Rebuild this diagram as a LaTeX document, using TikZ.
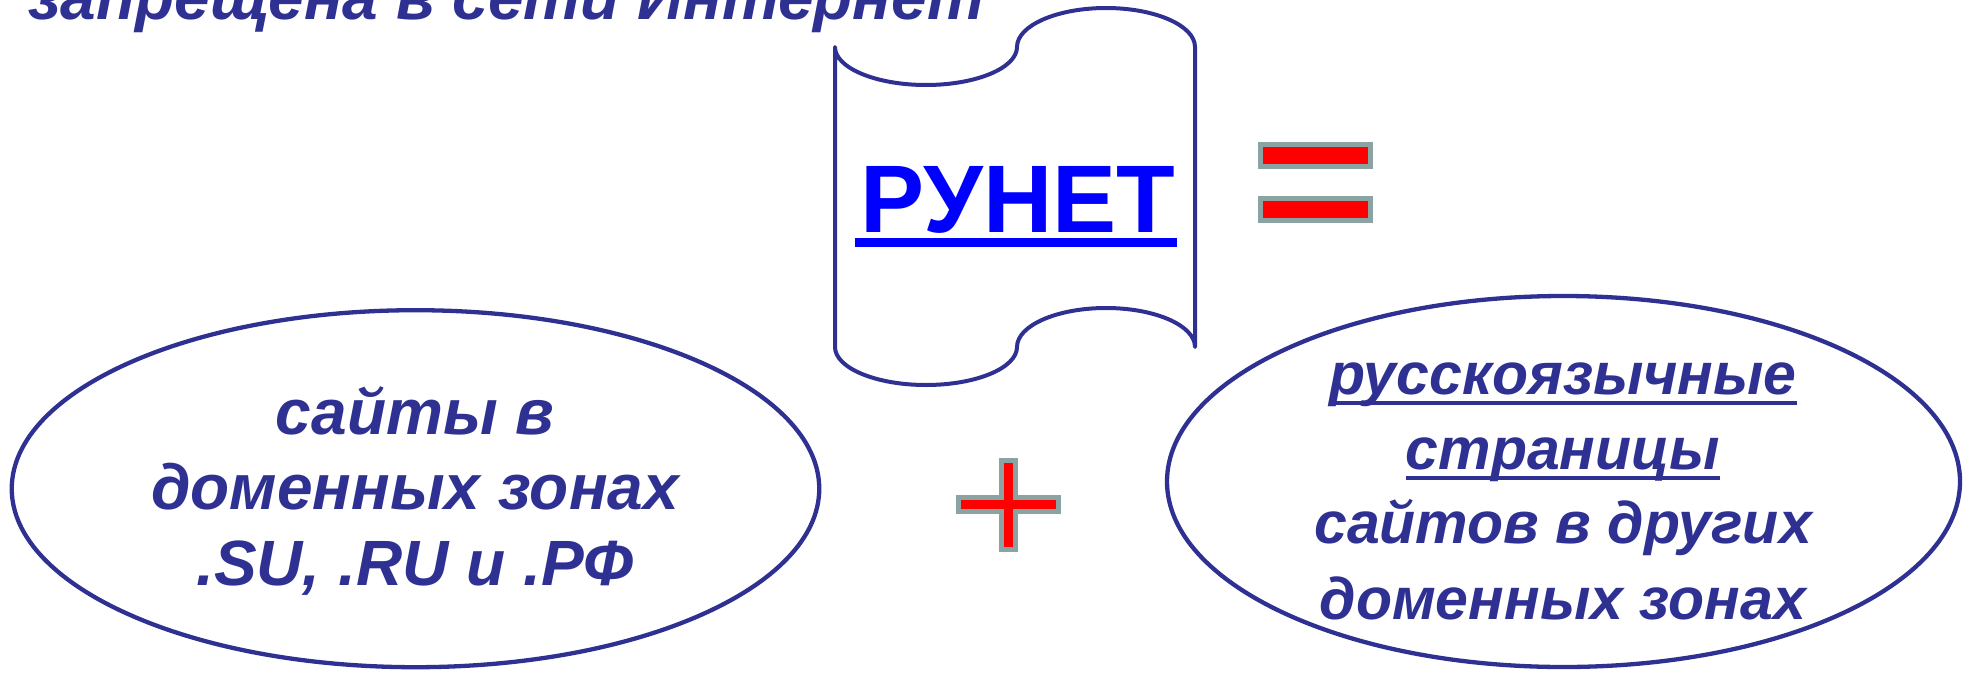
\documentclass[tikz,border=0pt]{standalone}
\usepackage{fontspec}
\setmainfont{Liberation Sans}
\usetikzlibrary{shapes.geometric}
\definecolor{navy}{RGB}{46,49,146}
\definecolor{signgray}{RGB}{139,163,163}
\definecolor{runetblue}{RGB}{0,0,255}
\begin{document}
\begin{tikzpicture}[x=1pt,y=-1pt,
  txt/.style={text=navy,font=\fontsize{64}{70}\selectfont\bfseries\itshape,inner sep=0pt,anchor=base},
  txtr/.style={txt,font=\fontsize{59}{66}\selectfont\bfseries\itshape},
  oval/.style={draw=navy,line width=4.3pt,ellipse,inner sep=0pt},
  sign/.style={draw=signgray,fill=red,line width=5pt,line join=miter},
  uline/.style={draw=navy,line width=4.5pt}]
\useasboundingbox (0,0) rectangle (1972,672);

% heading cut at the top
\node[txt,anchor=base west] (head) at (28,19) {запрещена в сети Интернет};

% scroll (punched tape)
\draw[navy,line width=4pt,line join=round,line cap=round]
  (835,47) .. controls (835,68) and (876,85) .. (926,85)
  .. controls (976,85) and (1017,68) .. (1017,47)
  .. controls (1017,25.5) and (1057,8) .. (1106,8)
  .. controls (1155,8) and (1195,25.5) .. (1195,47)
  -- (1195,347)
  .. controls (1195,325.5) and (1155,308) .. (1106,308)
  .. controls (1057,308) and (1017,325.5) .. (1017,347)
  .. controls (1017,368) and (976,385) .. (926,385)
  .. controls (876,385) and (835,368) .. (835,347)
  -- cycle;
\node[inner sep=0pt,anchor=base,text=runetblue,font=\fontsize{96}{100}\selectfont\bfseries] (runet) at (1018,232) {РУНЕТ};
\draw[runetblue,line width=9pt] ([xshift=-6pt,yshift=-10.5pt]runet.base west) -- ([xshift=2pt,yshift=-10.5pt]runet.base east);

% equals sign
\draw[sign] (1260.5,144.5) rectangle (1370.5,166.5);
\draw[sign] (1260.5,198.5) rectangle (1370.5,220.5);

% plus sign
\draw[sign] (1001.5,460.5) -- (1015.5,460.5) -- (1015.5,497.5) -- (1058.5,497.5)
  -- (1058.5,511.5) -- (1015.5,511.5) -- (1015.5,549.5) -- (1001.5,549.5)
  -- (1001.5,511.5) -- (958.5,511.5) -- (958.5,497.5) -- (1001.5,497.5) -- cycle;

% left ellipse
\node[oval,minimum width=807.5pt,minimum height=357pt] (leftoval) at (415.5,488.7) {};
\node[txt] (l1) at (415,434) {сайты в};
\node[txt] (l2) at (415,509) {доменных зонах};
\node[txt] (l3) at (415,585) {.SU, .RU и .РФ};

% right ellipse
\node[oval,minimum width=793pt,minimum height=371pt] (rightoval) at (1563.5,481.5) {};
\node[txtr] (r1) at (1563,394) {русскоязычные};
\node[txtr] (r2) at (1563,469) {страницы};
\node[txtr] (r3) at (1563,543) {сайтов в других};
\node[txtr] (r4) at (1563,619) {доменных зонах};
\draw[uline] ([yshift=-9pt]r1.base west) -- ([yshift=-9pt]r1.base east);
\draw[uline] ([yshift=-9pt]r2.base west) -- ([yshift=-9pt]r2.base east);
\end{tikzpicture}
\end{document}
